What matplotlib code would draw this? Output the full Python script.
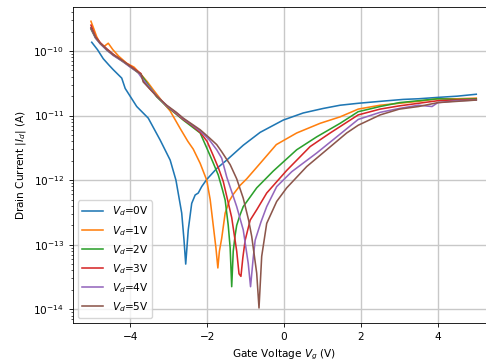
import numpy as np
import matplotlib
matplotlib.use("Agg")
import matplotlib.pyplot as plt
from matplotlib.ticker import LogLocator, NullFormatter

# Gate voltage (V) and log10(|Id| / A) for each drain voltage
vg0 = [-5.0, -4.85, -4.70, -4.55, -4.44, -4.22, -4.13, -3.83, -3.53, -3.22, -2.96, -2.81, -2.66, -2.60,
       -2.556, -2.49, -2.40, -2.31, -2.23, -2.14, -2.01, -1.75, -1.49, -1.06, -0.62, -0.02, 0.50, 1.02,
       1.46, 1.93, 2.5, 3.10, 3.5, 3.97, 4.5, 5.0]
lg0 = [-9.865, -9.98, -10.12, -10.22, -10.29, -10.42, -10.58, -10.86, -11.04, -11.38, -11.69, -12.0, -12.51, -12.93,
       -13.30, -12.77, -12.36, -12.23, -12.20, -12.10, -11.99, -11.82, -11.69, -11.46, -11.26, -11.07, -10.96, -10.89,
       -10.84, -10.81, -10.78, -10.75, -10.74, -10.72, -10.70, -10.67]

vg1 = [-5.02, -4.95, -4.87, -4.78, -4.68, -4.57, -4.45, -4.30, -4.09, -3.90, -3.74, -3.55, -3.40, -3.14, -2.96,
       -2.70, -2.50, -2.36, -2.18, -2.01, -1.92, -1.84, -1.77, -1.72, -1.68, -1.62, -1.53, -1.42, -1.32, -1.14,
       -0.97, -0.62, -0.20, 0.33, 0.94, 1.46, 1.93, 2.5, 3.0, 3.5, 4.0, 4.5, 5.0]
lg1 = [-9.54, -9.65, -9.78, -9.88, -9.93, -9.88, -9.98, -10.08, -10.19, -10.25, -10.35, -10.48, -10.60, -10.80, -10.93,
       -11.20, -11.40, -11.52, -11.74, -12.0, -12.3, -12.7, -13.05, -13.36, -13.10, -12.90, -12.51, -12.32, -12.22, -12.08,
       -11.98, -11.74, -11.45, -11.27, -11.12, -11.02, -10.90, -10.84, -10.81, -10.78, -10.74, -10.74, -10.73]

vg2 = [-5.02, -4.9, -4.78, -4.6, -4.44, -4.2, -4.0, -3.7, -3.5, -3.31, -3.05, -2.8, -2.62, -2.40, -2.18, -2.01,
       -1.85, -1.71, -1.60, -1.53, -1.45, -1.40, -1.36, -1.32, -1.27, -1.23, -1.15, -1.06, -0.71, -0.28, 0.33,
       0.85, 1.46, 1.93, 2.5, 3.0, 3.5, 4.0, 4.5, 5.0]
lg2 = [-9.66, -9.80, -9.88, -9.99, -10.06, -10.16, -10.24, -10.38, -10.55, -10.71, -10.86, -10.98, -11.07, -11.17, -11.27, -11.50,
       -11.72, -11.92, -12.15, -12.31, -12.70, -13.05, -13.65, -13.10, -12.85, -12.70, -12.55, -12.41, -12.12, -11.86, -11.53,
       -11.33, -11.12, -10.94, -10.86, -10.80, -10.77, -10.74, -10.75, -10.74]

vg3 = [-5.02, -4.9, -4.78, -4.6, -4.44, -4.2, -4.0, -3.72, -3.66, -3.5, -3.31, -3.05, -2.8, -2.62, -2.40, -2.18,
       -2.0, -1.84, -1.70, -1.58, -1.45, -1.36, -1.28, -1.23, -1.17, -1.12, -1.07, -1.01, -0.88, -0.70, -0.45,
       0.07, 0.68, 1.20, 1.93, 2.5, 3.0, 3.5, 4.0, 4.5, 5.0]
lg3 = [-9.60, -9.78, -9.87, -9.97, -10.05, -10.15, -10.23, -10.35, -10.46, -10.58, -10.70, -10.85, -10.97, -11.06, -11.15, -11.26,
       -11.40, -11.62, -11.82, -12.02, -12.35, -12.58, -12.90, -13.10, -13.45, -13.49, -13.20, -12.93, -12.62, -12.45, -12.20,
       -11.85, -11.48, -11.27, -10.99, -10.90, -10.85, -10.81, -10.77, -10.76, -10.75]

vg4 = [-5.02, -4.9, -4.78, -4.6, -4.44, -4.2, -4.0, -3.8, -3.72, -3.5, -3.31, -3.05, -2.8, -2.62, -2.40, -2.18,
       -1.95, -1.75, -1.62, -1.49, -1.23, -1.06, -0.93, -0.87, -0.80, -0.75, -0.60, -0.45, -0.19, 0.2, 0.85,
       1.37, 1.93, 2.5, 3.0, 3.5, 3.85, 4.0, 4.5, 5.0]
lg4 = [-9.65, -9.80, -9.89, -9.99, -10.07, -10.16, -10.25, -10.33, -10.40, -10.56, -10.70, -10.85, -10.96, -11.05, -11.14, -11.24,
       -11.37, -11.53, -11.66, -11.95, -12.41, -12.77, -13.29, -13.65, -13.20, -12.93, -12.65, -12.41, -12.10, -11.87, -11.58,
       -11.33, -11.06, -10.95, -10.89, -10.84, -10.86, -10.80, -10.77, -10.76]

vg5 = [-5.02, -4.9, -4.78, -4.6, -4.44, -4.2, -4.0, -3.72, -3.66, -3.5, -3.31, -3.05, -2.8, -2.62, -2.40, -2.18,
       -1.95, -1.75, -1.62, -1.40, -1.23, -1.06, -0.92, -0.84, -0.71, -0.65, -0.58, -0.45, -0.19, 0.07, 0.59,
       1.11, 1.63, 1.93, 2.5, 3.0, 3.5, 4.0, 4.5, 5.0]
lg5 = [-9.64, -9.79, -9.88, -9.98, -10.06, -10.15, -10.24, -10.36, -10.48, -10.58, -10.70, -10.84, -10.95, -11.04, -11.13, -11.22,
       -11.34, -11.45, -11.56, -11.76, -11.98, -12.28, -12.62, -12.87, -13.44, -13.98, -13.18, -12.67, -12.33, -12.12, -11.79,
       -11.53, -11.27, -11.15, -10.99, -10.90, -10.86, -10.80, -10.78, -10.76]

labels = ["$V_d$=0V", "$V_d$=1V", "$V_d$=2V", "$V_d$=3V", "$V_d$=4V", "$V_d$=5V"]
xticks = [-4, -2, 0, 2, 4]
yticks = [1e-14, 1e-13, 1e-12, 1e-11, 1e-10]
series = [(vg0, lg0), (vg1, lg1), (vg2, lg2), (vg3, lg3), (vg4, lg4), (vg5, lg5)]

s = 486 / 640
plt.rcParams.update({
    "font.size": 10 * s,
    "lines.linewidth": 1.5 * s,
    "axes.linewidth": 0.8 * s,
    "xtick.major.size": 3.5 * s, "ytick.major.size": 3.5 * s,
    "xtick.minor.size": 2 * s, "ytick.minor.size": 2 * s,
    "xtick.major.width": 0.8 * s, "ytick.major.width": 0.8 * s,
    "xtick.minor.width": 0.6 * s, "ytick.minor.width": 0.6 * s,
    "grid.linewidth": 1.0,
    "grid.color": "#c8c8c8",
})

fig = plt.figure(figsize=(4.86, 3.64), dpi=100)
ax = fig.add_axes([72.5 / 486, 1 - 323.3 / 364, 423 / 486, (323.3 - 7) / 364])
for (vg, lg), lab in zip(series, labels):
    ax.plot(vg, 10.0 ** np.array(lg), label=lab)
ax.set_yscale("log")
ax.set_xlim(-5.5, 5.5)
ax.set_ylim(10 ** -14.217, 10 ** -9.319)
ax.set_xticks(xticks)
ax.set_yticks(yticks)
ax.yaxis.set_minor_locator(LogLocator(base=10, subs=np.arange(2, 10)))
ax.yaxis.set_minor_formatter(NullFormatter())
ax.grid(True, which="major")
ax.set_xlabel("Gate Voltage $V_g$ (V)")
ax.set_ylabel("Drain Current $|I_d|$ (A)")
ax.legend(loc="lower left")
fig.savefig("out.png", dpi=100)
